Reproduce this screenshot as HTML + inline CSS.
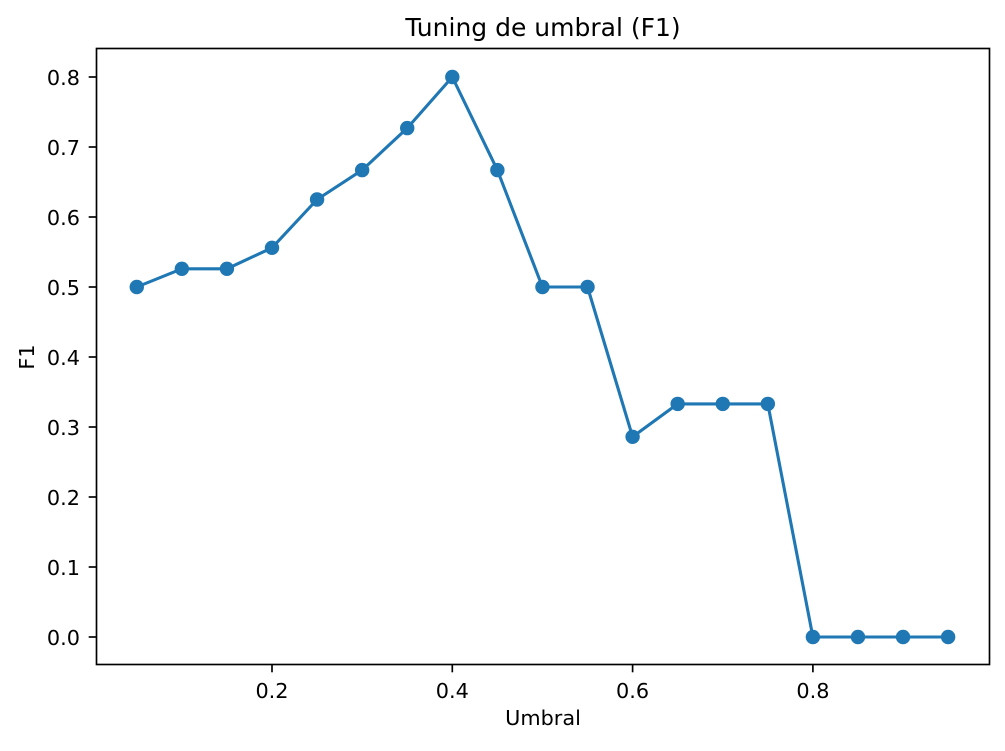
<!DOCTYPE html>
<html><head><meta charset="utf-8">
<style>
html,body{margin:0;padding:0;background:#fff;}
svg text{font-family:"DejaVu Sans","Liberation Sans",sans-serif;fill:#000;}
</style></head>
<body>
<svg id="chart" width="1005" height="746" xmlns="http://www.w3.org/2000/svg">
<rect x="0" y="0" width="1005" height="746" fill="#fff"/>
<text x="543" y="36" font-size="25" text-anchor="middle">Tuning de umbral (F1)</text>
<text x="543" y="725" font-size="20.8" text-anchor="middle">Umbral</text>
<text x="34" y="357" font-size="20.8" text-anchor="middle" transform="rotate(-90 34 357)">F1</text>
<g id="xticks"></g><g id="yticks"></g><g id="series"></g>
<rect x="96.5" y="48.5" width="893" height="616" fill="none" stroke="#000" stroke-width="1.67"/>
</svg>
<script>
const thresholds=[0.05,0.1,0.15,0.2,0.25,0.3,0.35,0.4,0.45,0.5,0.55,0.6,0.65,0.7,0.75,0.8,0.85,0.9,0.95];
const f1Values=[0.5,0.526,0.526,0.556,0.625,0.667,0.727,0.8,0.667,0.5,0.5,0.286,0.333,0.333,0.333,0,0,0,0];
const xTickValues=[0.2,0.4,0.6,0.8];
const xTickLabels=["0.2","0.4","0.6","0.8"];
const yTickValues=[0,0.1,0.2,0.3,0.4,0.5,0.6,0.7,0.8];
const yTickLabels=["0.0","0.1","0.2","0.3","0.4","0.5","0.6","0.7","0.8"];

const NS="http://www.w3.org/2000/svg";
function xs(v){return 91.7+v*901.5;}
function ys(v){return 637-v*700;}
function mk(tag,attrs,parent){const e=document.createElementNS(NS,tag);for(const k in attrs)e.setAttribute(k,attrs[k]);parent.appendChild(e);return e;}

const xg=document.getElementById('xticks');
xTickValues.forEach((v,i)=>{
  const l=mk('line',{x1:xs(v),x2:xs(v),y1:665,y2:672.3,stroke:'#000','stroke-width':1.67},xg);
  
  
  const t=mk('text',{x:xs(v),y:698,'font-size':20.8,'text-anchor':'middle'},xg);
  t.textContent=xTickLabels[i];
  
  
});
const yg=document.getElementById('yticks');
yTickValues.forEach((v,i)=>{
  const l=mk('line',{x1:88.7,x2:96,y1:ys(v),y2:ys(v),stroke:'#000','stroke-width':1.67},yg);
  
  
  const t=mk('text',{x:80,y:ys(v)+8,'font-size':20.8,'text-anchor':'end'},yg);
  t.textContent=yTickLabels[i];
  
  
});
const sg=document.getElementById('series');
const pts=thresholds.map((t,i)=>xs(t)+','+ys(f1Values[i])).join(' ');
const pl=mk('polyline',{points:pts,fill:'none',stroke:'#1f77b4','stroke-width':3.1,'stroke-linejoin':'round'},sg);


thresholds.forEach((t,i)=>{
  const c=mk('circle',{cx:xs(t),cy:ys(f1Values[i]),r:7.2,fill:'#1f77b4'},sg);
  
  
});
</script>
</body></html>
